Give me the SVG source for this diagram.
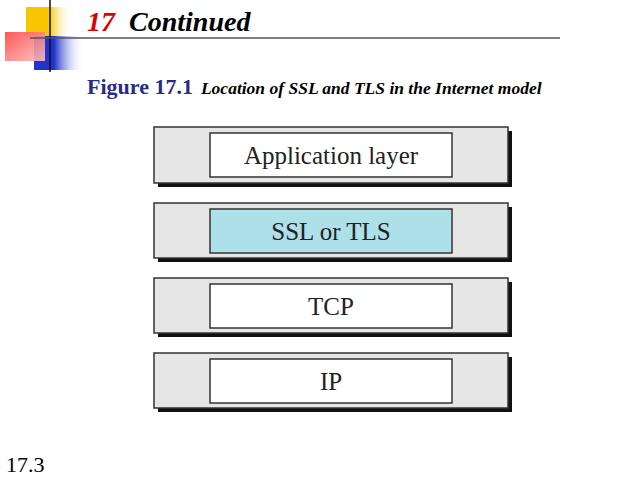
<svg xmlns="http://www.w3.org/2000/svg" width="638" height="479" viewBox="0 0 638 479">
<style>
.o{fill:#e6e6e6;stroke:#333;stroke-width:1.5}
.s{fill:#111}
.i{fill:#fff;stroke:#333;stroke-width:1.5}
.t{font-family:"Liberation Serif",serif;font-size:25px;fill:#222;text-anchor:middle}
</style>
<defs>
<linearGradient id="gy" x1="0" x2="1"><stop offset="0.5" stop-color="#f7c600"/><stop offset="1" stop-color="#fff" stop-opacity="0"/></linearGradient>
<linearGradient id="gb" x1="0" x2="1"><stop offset="0.4" stop-color="#2233cc"/><stop offset="1" stop-color="#fff" stop-opacity="0"/></linearGradient>
<linearGradient id="gr" x1="0" y1="0" x2="1" y2="1"><stop offset="0" stop-color="#f44"/><stop offset="1" stop-color="#f9c0c0"/></linearGradient>
</defs>
<rect width="638" height="479" fill="#fff"/>
<rect x="26" y="7" width="46" height="29" fill="url(#gy)"/>
<rect x="34" y="36" width="50" height="34" fill="url(#gb)"/>
<rect x="5" y="32" width="40" height="29" fill="url(#gr)" opacity="0.9"/>
<line x1="50" y1="0" x2="50" y2="72" stroke="#111" stroke-width="1.5"/>
<line x1="30" y1="38" x2="560" y2="38" stroke="#555" stroke-width="1.5"/>
<text x="87" y="31" font-family="Liberation Serif,serif" font-size="28" font-weight="bold" font-style="italic"><tspan fill="#d00">17</tspan><tspan fill="#000" dx="14">Continued</tspan></text>
<text x="87" y="94" font-family="Liberation Serif,serif" font-weight="bold"><tspan fill="#2a2a88" font-size="22">Figure 17.1</tspan><tspan fill="#000" font-size="17.5" font-style="italic" dx="8">Location of SSL and TLS in the Internet model</tspan></text>
<g id="app"><rect class="s" x="158" y="131" width="354" height="56"/><rect class="o" x="154" y="127" width="354" height="56"/><rect class="i" x="210" y="133" width="242" height="44"/><text class="t" x="331" y="164">Application layer</text></g>
<g id="ssl"><rect class="s" x="158" y="207" width="354" height="55"/><rect class="o" x="154" y="203" width="354" height="55"/><rect class="i" x="210" y="209" width="242" height="44" style="fill:#aee0ea"/><text class="t" x="331" y="240">SSL or TLS</text></g>
<g id="tcp"><rect class="s" x="158" y="282" width="354" height="55"/><rect class="o" x="154" y="278" width="354" height="55"/><rect class="i" x="210" y="284" width="242" height="44"/><text class="t" x="331" y="315">TCP</text></g>
<g id="ip"><rect class="s" x="158" y="357" width="354" height="55"/><rect class="o" x="154" y="353" width="354" height="55"/><rect class="i" x="210" y="359" width="242" height="44"/><text class="t" x="331" y="390">IP</text></g>
<g id="connectors"/>
<text x="6" y="472" font-family="Liberation Serif,serif" font-size="22" fill="#000">17.3</text>
</svg>
